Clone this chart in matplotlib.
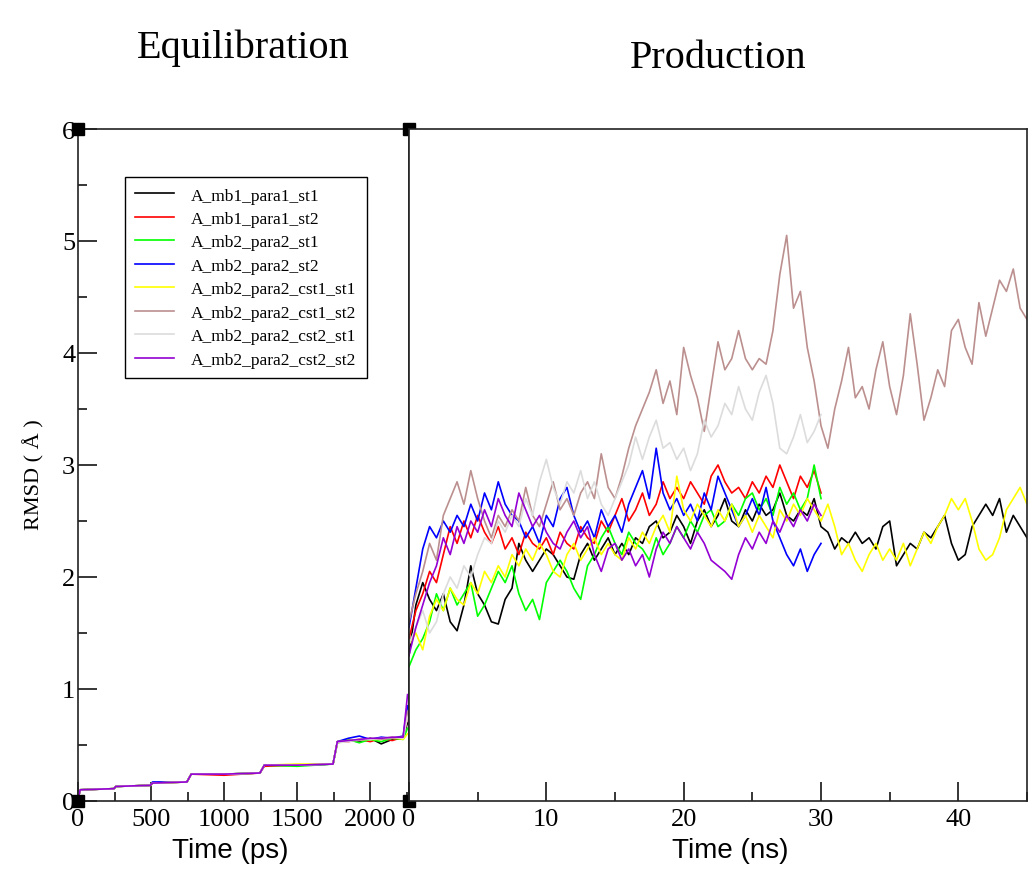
import numpy as np
import matplotlib
matplotlib.use('Agg')
import matplotlib.pyplot as plt
from matplotlib.ticker import MultipleLocator

plt.rcParams['font.family'] = ['Liberation Serif', 'DejaVu Serif']

# ---- data ----
labels = ['A_mb1_para1_st1', 'A_mb1_para1_st2', 'A_mb2_para2_st1', 'A_mb2_para2_st2',
          'A_mb2_para2_cst1_st1', 'A_mb2_para2_cst1_st2', 'A_mb2_para2_cst2_st1',
          'A_mb2_para2_cst2_st2']
colors = ['#000000', '#ff0000', '#00ff00', '#0000ff', '#ffff00', '#bc8f8f', '#dcdcdc', '#9400d3']

# equilibration (ps)
eq_time = [0, 15, 245, 260, 495, 510, 745, 775, 1000, 1245, 1275, 1500, 1745, 1775,
           1850, 1925, 2000, 2075, 2150, 2225, 2255]
eq_black  = [0.02, 0.10, 0.11, 0.13, 0.14, 0.16, 0.17, 0.24, 0.24, 0.25, 0.32, 0.32, 0.33, 0.52, 0.54, 0.53, 0.56, 0.51, 0.55, 0.56, 0.70]
eq_red    = [0.02, 0.10, 0.11, 0.13, 0.14, 0.16, 0.17, 0.24, 0.23, 0.25, 0.31, 0.32, 0.33, 0.53, 0.53, 0.55, 0.53, 0.56, 0.54, 0.57, 0.75]
eq_green  = [0.02, 0.10, 0.11, 0.13, 0.14, 0.16, 0.17, 0.24, 0.24, 0.25, 0.32, 0.31, 0.33, 0.52, 0.55, 0.52, 0.55, 0.53, 0.56, 0.55, 0.65]
eq_blue   = [0.02, 0.10, 0.11, 0.13, 0.14, 0.17, 0.17, 0.24, 0.24, 0.25, 0.32, 0.32, 0.33, 0.53, 0.56, 0.58, 0.55, 0.57, 0.56, 0.58, 0.85]
eq_yellow = [0.02, 0.10, 0.11, 0.13, 0.14, 0.16, 0.17, 0.24, 0.24, 0.25, 0.32, 0.33, 0.33, 0.52, 0.54, 0.55, 0.55, 0.55, 0.57, 0.55, 0.60]
eq_brown  = [0.02, 0.10, 0.11, 0.13, 0.14, 0.16, 0.17, 0.24, 0.24, 0.25, 0.32, 0.32, 0.33, 0.53, 0.54, 0.54, 0.56, 0.55, 0.56, 0.57, 0.80]
eq_gray   = [0.02, 0.10, 0.11, 0.13, 0.14, 0.16, 0.17, 0.24, 0.24, 0.25, 0.32, 0.32, 0.33, 0.52, 0.53, 0.55, 0.55, 0.56, 0.57, 0.56, 0.75]
eq_purple = [0.02, 0.10, 0.11, 0.13, 0.14, 0.16, 0.17, 0.24, 0.24, 0.25, 0.32, 0.32, 0.33, 0.53, 0.54, 0.55, 0.56, 0.56, 0.57, 0.57, 0.95]

# production (ns), sampled every 0.5 ns
t30 = np.linspace(0, 30, 61)
t45 = np.linspace(0, 45, 91)

pr_black = [1.30, 1.75, 1.95, 1.80, 1.70, 1.85, 1.60, 1.52, 1.75, 2.10,
            1.85, 1.75, 1.60, 1.58, 1.80, 1.90, 2.30, 2.15, 2.05, 2.15,
            2.25, 2.20, 2.10, 2.00, 1.98, 2.20, 2.30, 2.15, 2.25, 2.35,
            2.20, 2.30, 2.20, 2.35, 2.30, 2.45, 2.50, 2.35, 2.40, 2.55,
            2.45, 2.30, 2.50, 2.60, 2.45, 2.55, 2.70, 2.50, 2.45, 2.60,
            2.50, 2.65, 2.55, 2.60, 2.75, 2.55, 2.50, 2.60, 2.55, 2.70,
            2.45, 2.40, 2.25, 2.35, 2.30, 2.40, 2.30, 2.35, 2.25, 2.45,
            2.50, 2.10, 2.20, 2.30, 2.25, 2.40, 2.35, 2.45, 2.55, 2.30,
            2.15, 2.20, 2.45, 2.55, 2.65, 2.55, 2.70, 2.40, 2.55, 2.45,
            2.35]
pr_red = [1.45, 1.70, 1.85, 2.05, 1.95, 2.20, 2.45, 2.30, 2.50, 2.35,
          2.55, 2.40, 2.30, 2.45, 2.25, 2.35, 2.20, 2.40, 2.30, 2.25,
          2.35, 2.20, 2.40, 2.30, 2.25, 2.45, 2.35, 2.30, 2.50, 2.40,
          2.55, 2.70, 2.50, 2.60, 2.75, 2.55, 2.65, 2.85, 2.70, 2.80,
          2.70, 2.85, 2.75, 2.65, 2.90, 3.00, 2.85, 2.75, 2.80, 2.70,
          2.85, 2.75, 2.90, 2.80, 3.00, 2.85, 2.70, 2.90, 2.80, 2.95,
          2.75]
pr_green = [1.20, 1.35, 1.45, 1.60, 1.85, 1.70, 1.90, 1.75, 1.85, 1.95,
            1.65, 1.75, 1.90, 2.05, 1.95, 2.10, 1.85, 1.70, 1.80, 1.62,
            1.95, 2.05, 2.15, 2.05, 1.90, 1.80, 2.10, 2.20, 2.35, 2.45,
            2.30, 2.20, 2.40, 2.30, 2.25, 2.15, 2.35, 2.20, 2.30, 2.45,
            2.35, 2.50, 2.40, 2.55, 2.60, 2.45, 2.50, 2.65, 2.55, 2.70,
            2.75, 2.60, 2.70, 2.55, 2.80, 2.65, 2.75, 2.60, 2.70, 3.00,
            2.70]
pr_blue = [1.55, 1.90, 2.25, 2.45, 2.35, 2.50, 2.40, 2.55, 2.45, 2.65,
           2.50, 2.75, 2.60, 2.85, 2.65, 2.55, 2.50, 2.35, 2.45, 2.30,
           2.55, 2.45, 2.70, 2.80, 2.55, 2.40, 2.50, 2.35, 2.60, 2.45,
           2.55, 2.40, 2.65, 2.80, 2.95, 2.70, 3.15, 2.75, 2.60, 2.70,
           2.55, 2.65, 2.50, 2.75, 2.60, 2.90, 2.75, 2.60, 2.45, 2.55,
           2.70, 2.55, 2.80, 2.50, 2.35, 2.20, 2.10, 2.25, 2.05, 2.20,
           2.30]
pr_yellow = [1.40, 1.50, 1.35, 1.65, 1.80, 1.70, 1.90, 1.80, 1.75, 1.95,
             1.85, 2.05, 1.95, 2.10, 2.00, 2.20, 2.10, 2.25, 2.15, 2.30,
             2.20, 2.05, 2.00, 2.20, 2.30, 2.15, 2.25, 2.35, 2.20, 2.30,
             2.20, 2.15, 2.35, 2.25, 2.40, 2.30, 2.45, 2.55, 2.40, 2.90,
             2.60, 2.50, 2.65, 2.55, 2.45, 2.60, 2.50, 2.65, 2.45, 2.55,
             2.40, 2.55, 2.45, 2.35, 2.60, 2.50, 2.65, 2.55, 2.70, 2.60,
             2.50, 2.65, 2.45, 2.20, 2.30, 2.15, 2.05, 2.20, 2.30, 2.15,
             2.25, 2.15, 2.30, 2.10, 2.25, 2.40, 2.30, 2.45, 2.55, 2.70,
             2.60, 2.70, 2.50, 2.25, 2.15, 2.20, 2.35, 2.60, 2.70, 2.80,
             2.65]
pr_brown = [1.60, 1.85, 2.05, 2.30, 2.15, 2.55, 2.70, 2.85, 2.65, 2.95,
            2.70, 2.50, 2.35, 2.55, 2.45, 2.60, 2.50, 2.80, 2.55, 2.45,
            2.65, 2.85, 2.60, 2.70, 2.55, 2.75, 2.85, 2.70, 3.10, 2.80,
            2.70, 2.90, 3.15, 3.35, 3.50, 3.65, 3.85, 3.55, 3.75, 3.45,
            4.05, 3.80, 3.60, 3.30, 3.70, 4.10, 3.85, 3.95, 4.20, 3.95,
            3.85, 3.95, 3.90, 4.20, 4.70, 5.05, 4.40, 4.55, 4.05, 3.75,
            3.35, 3.15, 3.50, 3.75, 4.05, 3.60, 3.70, 3.50, 3.85, 4.10,
            3.70, 3.45, 3.80, 4.35, 3.90, 3.40, 3.60, 3.85, 3.70, 4.20,
            4.30, 4.05, 3.90, 4.45, 4.15, 4.40, 4.65, 4.55, 4.75, 4.40,
            4.30]
pr_gray = [1.40, 1.55, 1.70, 1.50, 1.60, 1.85, 2.00, 1.90, 2.10, 2.00,
           2.20, 2.35, 2.30, 2.50, 2.40, 2.55, 2.45, 2.70, 2.55, 2.85,
           3.05, 2.80, 2.65, 2.85, 2.75, 2.95, 2.70, 2.85, 2.65, 2.55,
           2.70, 2.85, 3.00, 3.25, 3.05, 3.25, 3.40, 3.15, 3.20, 3.05,
           3.15, 2.95, 3.10, 3.40, 3.25, 3.35, 3.55, 3.45, 3.70, 3.50,
           3.40, 3.65, 3.80, 3.55, 3.15, 3.10, 3.25, 3.45, 3.20, 3.30,
           3.45]
pr_purple = [1.30, 1.55, 1.75, 1.95, 2.10, 2.35, 2.20, 2.45, 2.30, 2.50,
             2.40, 2.60, 2.45, 2.70, 2.55, 2.45, 2.75, 2.60, 2.45, 2.55,
             2.40, 2.30, 2.25, 2.40, 2.50, 2.35, 2.45, 2.20, 2.05, 2.25,
             2.30, 2.15, 2.25, 2.10, 2.20, 2.00, 2.25, 2.40, 2.30, 2.45,
             2.35, 2.25, 2.40, 2.30, 2.15, 2.10, 2.05, 1.98, 2.20, 2.35,
             2.25, 2.40, 2.30, 2.50, 2.40, 2.55, 2.45, 2.60, 2.50, 2.65,
             2.55]

eq_series = [eq_black, eq_red, eq_green, eq_blue, eq_yellow, eq_brown, eq_gray, eq_purple]
pr_series = [(t45, pr_black), (t30, pr_red), (t30, pr_green), (t30, pr_blue),
             (t45, pr_yellow), (t45, pr_brown), (t30, pr_gray), (t30, pr_purple)]

# ---- figure ----
W, H = 1036, 870
fig = plt.figure(figsize=(W / 100, H / 100), dpi=100)
x0, xm, x1 = 78, 409, 1027
ytop, ybot = 130, 802
ax1 = fig.add_axes([x0 / W, (H - ybot) / H, (xm - x0) / W, (ybot - ytop) / H])
ax2 = fig.add_axes([xm / W, (H - ybot) / H, (x1 - xm) / W, (ybot - ytop) / H])

for vals, col, lab in zip(eq_series, colors, labels):
    ax1.plot(eq_time, vals, color=col, lw=1.2, label=lab)
for (t, vals), col in zip(pr_series, colors):
    ax2.plot(t, vals, color=col, lw=1.2)

ax1.set_xlim(0, 2265)
ax2.set_xlim(0, 45)
for ax in (ax1, ax2):
    ax.set_ylim(0, 6)
    for sp in ax.spines.values():
        sp.set_linewidth(1.2)
        sp.set_color('#222222')

ax1.xaxis.set_major_locator(MultipleLocator(500))
ax1.xaxis.set_minor_locator(MultipleLocator(250))
ax1.yaxis.set_major_locator(MultipleLocator(1))
ax1.yaxis.set_minor_locator(MultipleLocator(0.5))
ax1.tick_params(which='both', direction='in', top=False, right=False, labelsize=19, width=1.1)
ax1.tick_params(which='major', length=13.5)
ax1.tick_params(which='minor', length=6.5)
ax1.tick_params(axis='y', pad=2)
ax1.tick_params(axis='x', pad=5)

ax2.xaxis.set_major_locator(MultipleLocator(10))
ax2.xaxis.set_minor_locator(MultipleLocator(5))
ax2.tick_params(which='both', direction='in', top=False, right=False, left=False,
                labelleft=False, labelsize=19, width=1.1, pad=5)
ax2.tick_params(which='major', length=13.5)
ax2.tick_params(which='minor', length=6.5)

ax1.set_ylabel('RMSD ( Å )', fontsize=16)
ax1.yaxis.set_label_coords(-0.10, 0.487)

# corner markers
ax1.plot([0, 0, 2265, 2265], [0, 6, 0, 6], 's', color='black', ms=9, clip_on=False, zorder=10)

leg = ax1.legend(loc='upper left', bbox_to_anchor=(0.142, 0.9286), fontsize=12.5,
                 frameon=True, fancybox=False, edgecolor='black', framealpha=1,
                 handlelength=2.2, handletextpad=1.0, labelspacing=0.42,
                 borderpad=0.6, borderaxespad=0)
leg.get_frame().set_linewidth(1.0)

fig.text(243 / W, 1 - 48 / H, 'Equilibration', fontsize=29, ha='center', va='center')
fig.text(718 / W, 1 - 58 / H, 'Production', fontsize=29, ha='center', va='center')
fig.text(230 / W, 1 - 838 / H, 'Time (ps)', fontsize=20, ha='center', va='top',
         family=['Liberation Sans', 'DejaVu Sans'])
fig.text(730 / W, 1 - 838 / H, 'Time (ns)', fontsize=20, ha='center', va='top',
         family=['Liberation Sans', 'DejaVu Sans'])

fig.savefig('out.png', dpi=100)
